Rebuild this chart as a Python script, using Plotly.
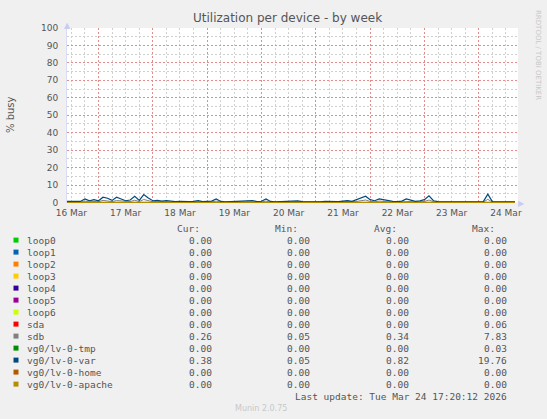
import pandas as pd
import plotly.graph_objects as go

# series shown in the legend table (munin order)
names = ["loop0", "loop1", "loop2", "loop3", "loop4", "loop5", "loop6",
         "sda", "sdb", "vg0/lv-0-tmp", "vg0/lv-0-var", "vg0/lv-0-home", "vg0/lv-0-apache"]
colors = ["#00CC00", "#0066B3", "#FF8000", "#FFCC00", "#330099", "#990099", "#CCFF00",
          "#FF0000", "#808080", "#008F00", "#00487D", "#B35A00", "#B38F00"]
cur = [0.00, 0.00, 0.00, 0.00, 0.00, 0.00, 0.00, 0.00, 0.26, 0.00, 0.38, 0.00, 0.00]
mins = [0.00, 0.00, 0.00, 0.00, 0.00, 0.00, 0.00, 0.00, 0.05, 0.00, 0.05, 0.00, 0.00]
avgs = [0.00, 0.00, 0.00, 0.00, 0.00, 0.00, 0.00, 0.00, 0.34, 0.00, 0.82, 0.00, 0.00]
maxs = [0.00, 0.00, 0.00, 0.00, 0.00, 0.00, 0.00, 0.06, 7.83, 0.03, 19.76, 0.00, 0.00]

# 2-hourly samples, starting 16 Mar 10:00
var_busy = [0.6, 0.5, 0.8, 0.6, 2.0, 0.9, 1.6, 1.0, 3.0, 2.4,
            1.2, 3.0, 2.0, 1.0, 1.4, 3.5, 1.2, 4.5, 2.6, 1.0,
            1.2, 0.8, 1.1, 0.6, 0.5, 0.7, 0.4, 0.5, 0.6, 1.0,
            0.5, 0.6, 0.8, 2.0, 0.6, 0.4, 0.5, 0.4, 0.6, 0.5,
            1.0, 1.1, 0.5, 0.7, 2.0, 0.6, 0.4, 0.5, 0.4, 0.5,
            0.6, 0.9, 0.5, 0.4, 0.6, 0.5, 0.4, 0.6, 0.5, 0.7,
            0.5, 0.8, 1.1, 0.7, 1.6, 2.6, 3.6, 1.6, 1.0, 2.0,
            1.4, 0.8, 0.6, 0.5, 0.8, 2.0, 1.5, 0.6, 0.9, 1.6,
            3.8, 1.0, 0.5, 0.4, 0.4, 0.4, 0.5, 0.4, 0.4, 0.4,
            0.4, 0.4, 0.5, 4.8, 0.5, 0.4, 0.4, 0.4, 0.4, 0.4]
sdb_busy = [0.2, 0.2, 0.3, 0.2, 0.8, 0.3, 0.6, 0.4, 1.2, 0.9,
            0.5, 1.1, 0.8, 0.4, 0.5, 1.3, 0.5, 1.7, 1.0, 0.4,
            0.5, 0.3, 0.4, 0.2, 0.2, 0.3, 0.2, 0.2, 0.2, 0.4,
            0.2, 0.2, 0.3, 0.8, 0.2, 0.2, 0.2, 0.2, 0.2, 0.2,
            0.4, 0.4, 0.2, 0.3, 0.8, 0.2, 0.2, 0.2, 0.2, 0.2,
            0.2, 0.3, 0.2, 0.2, 0.2, 0.2, 0.2, 0.2, 0.2, 0.3,
            0.2, 0.3, 0.4, 0.3, 0.6, 1.0, 1.4, 0.6, 0.4, 0.8,
            0.5, 0.3, 0.2, 0.2, 0.3, 0.8, 0.6, 0.2, 0.3, 0.6,
            1.4, 0.4, 0.2, 0.2, 0.2, 0.2, 0.2, 0.2, 0.2, 0.2,
            0.2, 0.2, 0.2, 1.8, 0.2, 0.2, 0.2, 0.2, 0.2, 0.2]
zero_busy = [0.0] * len(var_busy)

times = pd.date_range("2026-03-16 10:00", periods=len(var_busy), freq="2h")

# day labels sit at noon, red grid at midnight, grey grid every 6 h in between
day_noons = pd.date_range("2026-03-16 12:00", "2026-03-24 12:00", freq="1D")
day_labels = [d.strftime("%d %b") for d in day_noons]
quarter_days = [t for t in pd.date_range("2026-03-16 06:00", "2026-03-24 18:00", freq="6h")
                if t.hour != 0]
y_major = [0, 10, 20, 30, 40, 50, 60, 70, 80, 90, 100]
y_minor = [5, 15, 25, 35, 45, 55, 65, 75, 85, 95]
x_range = ["2026-03-16 10:05", "2026-03-24 17:20"]

W, H = 547, 419
L, R, T, B = 67, 518, 28, 203
FG = "#555555"
DOT = "2px,2px"
RED_GRID = "#E48C8C"
GREY_GRID = "#D0D0D0"


def px(x):
    return (x - L) / (R - L)


def py(y):
    return (B - y) / (B - T)


fig = go.Figure()
for name, color in zip(names, colors):
    if name == "sdb":
        ys, w = sdb_busy, 1.0
    elif name == "vg0/lv-0-var":
        ys, w = var_busy, 1.2
    else:
        ys, w = zero_busy, 1.0
    fig.add_trace(go.Scatter(x=times, y=ys, mode="lines", name=name,
                             line=dict(color=color, width=w), showlegend=False))
# carrier for the label axis
fig.add_trace(go.Scatter(x=[times[0]], y=[None], xaxis="x2", mode="lines",
                         showlegend=False, hoverinfo="skip"))

anns = []
anns.append(dict(text="Utilization per device - by week", x=px(287), y=py(18),
                 font=dict(size=12, color=FG, family="DejaVu Sans")))
anns.append(dict(text="% busy", x=px(10), y=py(115), textangle=-90,
                 font=dict(size=10, color=FG, family="DejaVu Sans")))
anns.append(dict(text="RRDTOOL / TOBI OETIKER", x=px(538), y=py(55), textangle=90,
                 font=dict(size=7, color="#C8C8C8", family="DejaVu Sans")))
anns.append(dict(text="▲", x=px(67), y=py(25), font=dict(size=8, color="#C8CCF0")))
anns.append(dict(text="▶", x=px(521), y=py(203), font=dict(size=8, color="#C8CCF0")))

mono = dict(size=9.5, color=FG, family="DejaVu Sans Mono")
for hx, h in zip([202, 300, 399, 497], ["Cur:", "Min:", "Avg:", "Max:"]):
    anns.append(dict(text=h, x=px(hx), y=py(228), xanchor="right", font=mono))

shapes = []
for i, name in enumerate(names):
    ry = 240 + 12 * i
    shapes.append(dict(type="rect", xref="paper", yref="paper",
                       x0=px(13.5), x1=px(18.5), y0=py(ry + 2.6), y1=py(ry - 2.4),
                       fillcolor=colors[i], line=dict(width=0)))
    anns.append(dict(text=name, x=px(25), y=py(ry), xanchor="left", font=mono))
    for vx, v in zip([214, 312, 411, 509], [cur[i], mins[i], avgs[i], maxs[i]]):
        anns.append(dict(text=f"{v:.2f}", x=px(vx), y=py(ry), xanchor="right", font=mono))

anns.append(dict(text="Last update: Tue Mar 24 17:20:12 2026", x=px(509), y=py(396),
                 xanchor="right", font=mono))
anns.append(dict(text="Munin 2.0.75", x=px(261), y=py(408),
                 font=dict(size=8, color="#C8C8C8", family="DejaVu Sans")))

for a in anns:
    a.setdefault("xref", "paper")
    a.setdefault("yref", "paper")
    a.setdefault("showarrow", False)
    a.setdefault("yanchor", "middle")
    a.setdefault("xanchor", "center")

fig.update_layout(
    width=W, height=H,
    margin=dict(l=L, r=W - R, t=T, b=H - B, pad=0),
    paper_bgcolor="#F0F0F0",
    plot_bgcolor="#FFFFFF",
    showlegend=False,
    annotations=anns,
    shapes=shapes,
    font=dict(family="DejaVu Sans", size=9, color=FG),
    xaxis=dict(
        type="date", range=x_range,
        tick0="2026-03-16", dtick=86400000,
        showticklabels=False, ticks="",
        showgrid=True, gridcolor=RED_GRID, griddash=DOT, gridwidth=1,
        minor=dict(tickmode="array", tickvals=quarter_days, showgrid=True,
                   gridcolor=GREY_GRID, griddash=DOT, gridwidth=1),
        showline=False, zeroline=False,
    ),
    xaxis2=dict(
        type="date", range=x_range, overlaying="x", anchor="y", side="bottom",
        tickvals=list(day_noons), ticktext=day_labels,
        showgrid=False, showline=False, zeroline=False, ticks="",
        ticklabelstandoff=3,
        tickfont=dict(size=9, color=FG),
    ),
    yaxis=dict(
        range=[-0.3, 100], tickmode="array", tickvals=y_major,
        showgrid=True, gridcolor=RED_GRID, griddash=DOT, gridwidth=1,
        minor=dict(tickmode="array", tickvals=y_minor, showgrid=True,
                   gridcolor=GREY_GRID, griddash=DOT, gridwidth=1),
        showline=True, linecolor="#D8DCF4", linewidth=1,
        zeroline=False, ticks="", ticklabelstandoff=6,
        tickfont=dict(size=9, color=FG),
    ),
)

fig.write_html("out.html", post_script="document.body.style.margin='0';",
               config={"displayModeBar": False})
